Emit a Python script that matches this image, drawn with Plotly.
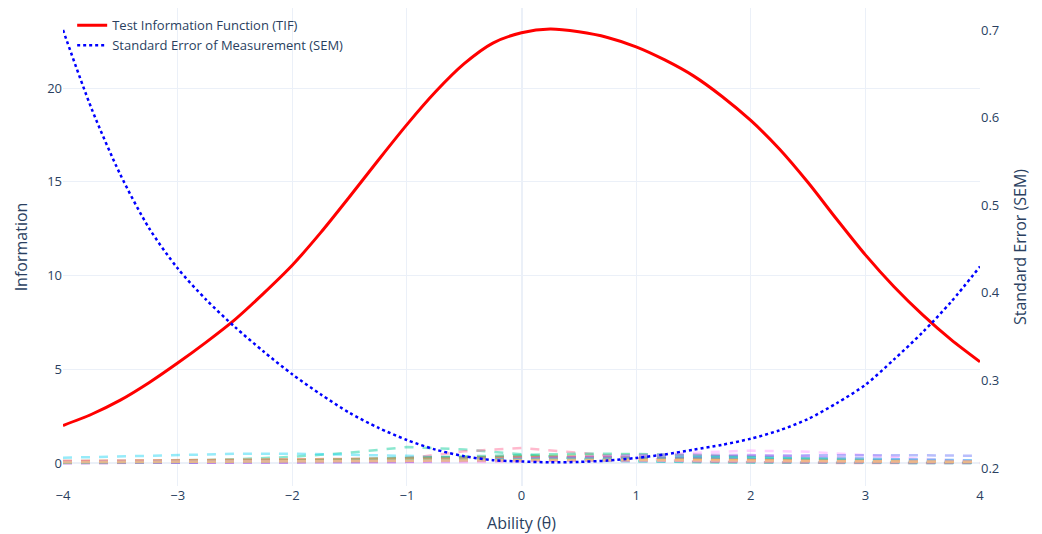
import plotly.graph_objects as go

theta = [-4.0, -3.75, -3.5, -3.25, -3.0, -2.75, -2.5, -2.25, -2.0, -1.75, -1.5, -1.25,
         -1.0, -0.75, -0.5, -0.25, 0.0, 0.25, 0.5, 0.75, 1.0, 1.25, 1.5, 1.75,
         2.0, 2.25, 2.5, 2.75, 3.0, 3.25, 3.5, 3.75, 4.0]

tif = [2.0, 2.6, 3.35, 4.28, 5.33, 6.45, 7.65, 9.05, 10.55, 12.3, 14.2, 16.15,
       18.05, 19.8, 21.3, 22.4, 22.95, 23.15, 23.0, 22.7, 22.2, 21.5, 20.65, 19.55,
       18.27, 16.75, 14.96, 13.0, 11.1, 9.4, 7.9, 6.57, 5.4]

sem = [0.70, 0.61, 0.535, 0.474, 0.428, 0.392, 0.361, 0.333, 0.307, 0.284, 0.263, 0.246,
       0.232, 0.221, 0.2135, 0.209, 0.2075, 0.2065, 0.207, 0.2085, 0.2115, 0.2155, 0.221, 0.2265,
       0.2335, 0.243, 0.256, 0.274, 0.295, 0.324, 0.355, 0.39, 0.43]

theta_items = [-4.0, -3.5, -3.0, -2.5, -2.0, -1.5, -1.0, -0.5, 0.0, 0.5, 1.0, 1.5, 2.0, 2.5, 3.0, 3.5, 4.0]

item_info = [
    [0.10, 0.12, 0.14, 0.16, 0.18, 0.19, 0.20, 0.20, 0.19, 0.18, 0.16, 0.14, 0.12, 0.10, 0.08, 0.07, 0.06],
    [0.02, 0.03, 0.05, 0.08, 0.12, 0.18, 0.25, 0.32, 0.36, 0.35, 0.30, 0.23, 0.16, 0.10, 0.06, 0.04, 0.02],
    [0.05, 0.08, 0.13, 0.20, 0.33, 0.55, 0.85, 0.72, 0.45, 0.22, 0.10, 0.04, 0.02, 0.01, 0.00, 0.00, 0.00],
    [0.01, 0.02, 0.03, 0.05, 0.08, 0.12, 0.18, 0.25, 0.30, 0.32, 0.30, 0.26, 0.20, 0.14, 0.09, 0.06, 0.03],
    [0.06, 0.08, 0.10, 0.12, 0.14, 0.16, 0.17, 0.18, 0.18, 0.17, 0.16, 0.14, 0.12, 0.10, 0.08, 0.06, 0.05],
    [0.28, 0.36, 0.44, 0.49, 0.50, 0.46, 0.38, 0.28, 0.20, 0.13, 0.08, 0.05, 0.03, 0.02, 0.01, 0.01, 0.00],
    [0.00, 0.00, 0.00, 0.01, 0.03, 0.08, 0.25, 0.62, 0.80, 0.55, 0.25, 0.09, 0.03, 0.01, 0.00, 0.00, 0.00],
    [0.03, 0.04, 0.06, 0.08, 0.11, 0.15, 0.20, 0.27, 0.35, 0.42, 0.45, 0.42, 0.35, 0.26, 0.18, 0.12, 0.08],
    [0.00, 0.00, 0.00, 0.00, 0.00, 0.01, 0.02, 0.04, 0.09, 0.19, 0.36, 0.55, 0.66, 0.60, 0.42, 0.22, 0.10],
    [0.01, 0.02, 0.03, 0.04, 0.06, 0.09, 0.13, 0.17, 0.20, 0.22, 0.22, 0.20, 0.17, 0.14, 0.11, 0.08, 0.06],
    [0.00, 0.00, 0.01, 0.01, 0.02, 0.04, 0.06, 0.10, 0.15, 0.21, 0.27, 0.33, 0.38, 0.41, 0.42, 0.41, 0.38],
    [0.08, 0.10, 0.12, 0.15, 0.18, 0.22, 0.26, 0.30, 0.32, 0.32, 0.30, 0.26, 0.22, 0.18, 0.14, 0.11, 0.08],
    [0.03, 0.05, 0.07, 0.10, 0.14, 0.20, 0.28, 0.38, 0.46, 0.50, 0.48, 0.40, 0.30, 0.21, 0.14, 0.09, 0.05],
    [0.00, 0.01, 0.01, 0.02, 0.03, 0.05, 0.09, 0.15, 0.24, 0.34, 0.42, 0.45, 0.42, 0.34, 0.25, 0.17, 0.11],
    [0.12, 0.14, 0.16, 0.18, 0.20, 0.21, 0.22, 0.22, 0.21, 0.20, 0.18, 0.16, 0.14, 0.12, 0.10, 0.09, 0.08],
    [0.02, 0.03, 0.04, 0.06, 0.08, 0.11, 0.14, 0.18, 0.22, 0.26, 0.28, 0.29, 0.28, 0.26, 0.22, 0.18, 0.14],
    [0.05, 0.06, 0.07, 0.08, 0.09, 0.10, 0.11, 0.12, 0.12, 0.12, 0.11, 0.10, 0.09, 0.08, 0.07, 0.06, 0.05],
    [0.04, 0.05, 0.06, 0.08, 0.10, 0.12, 0.14, 0.15, 0.15, 0.15, 0.14, 0.13, 0.11, 0.09, 0.07, 0.06, 0.05],
    [0.07, 0.08, 0.09, 0.10, 0.11, 0.12, 0.13, 0.14, 0.14, 0.14, 0.13, 0.12, 0.11, 0.10, 0.09, 0.08, 0.07],
    [0.03, 0.04, 0.05, 0.06, 0.08, 0.10, 0.12, 0.14, 0.16, 0.17, 0.17, 0.16, 0.14, 0.12, 0.10, 0.08, 0.06],
]

item_colors = ["#636efa", "#EF553B", "#00cc96", "#ab63fa", "#FFA15A", "#19d3f3",
               "#FF6692", "#B6E880", "#FF97FF", "#FECB52"]

fig = go.Figure()

for i, vals in enumerate(item_info):
    fig.add_trace(go.Scatter(
        x=theta_items, y=vals, mode="lines", showlegend=False, opacity=0.45,
        line=dict(color=item_colors[i % len(item_colors)], width=2.5, dash="dash"),
        hoverinfo="skip"))

fig.add_trace(go.Scatter(
    x=theta, y=tif, mode="lines", name="Test Information Function (TIF)",
    line=dict(color="red", width=3, shape="spline", smoothing=0.8)))

fig.add_trace(go.Scatter(
    x=theta, y=sem, mode="lines", name="Standard Error of Measurement (SEM)",
    line=dict(color="blue", width=2.5, dash="dot", shape="spline", smoothing=0.8),
    yaxis="y2"))

fig.update_layout(
    template="plotly_white",
    width=1034, height=526,
    margin=dict(l=55, r=62, t=0, b=48),
    font=dict(family="Open Sans, verdana, arial, sans-serif", size=13, color="#2a3f5f"),
    xaxis=dict(title=dict(text="Ability (θ)"), range=[-4, 4], dtick=1),
    yaxis=dict(title=dict(text="Information"), range=[-1.227, 24.27], dtick=5),
    yaxis2=dict(title=dict(text="Standard Error (SEM)"), overlaying="y", side="right",
                range=[0.1795, 0.7251], dtick=0.1, showgrid=False, zeroline=False),
    legend=dict(x=0.01, y=0.995, xanchor="left", yanchor="top",
                bgcolor="rgba(255,255,255,0)"),
)

fig.write_html("out.html")
